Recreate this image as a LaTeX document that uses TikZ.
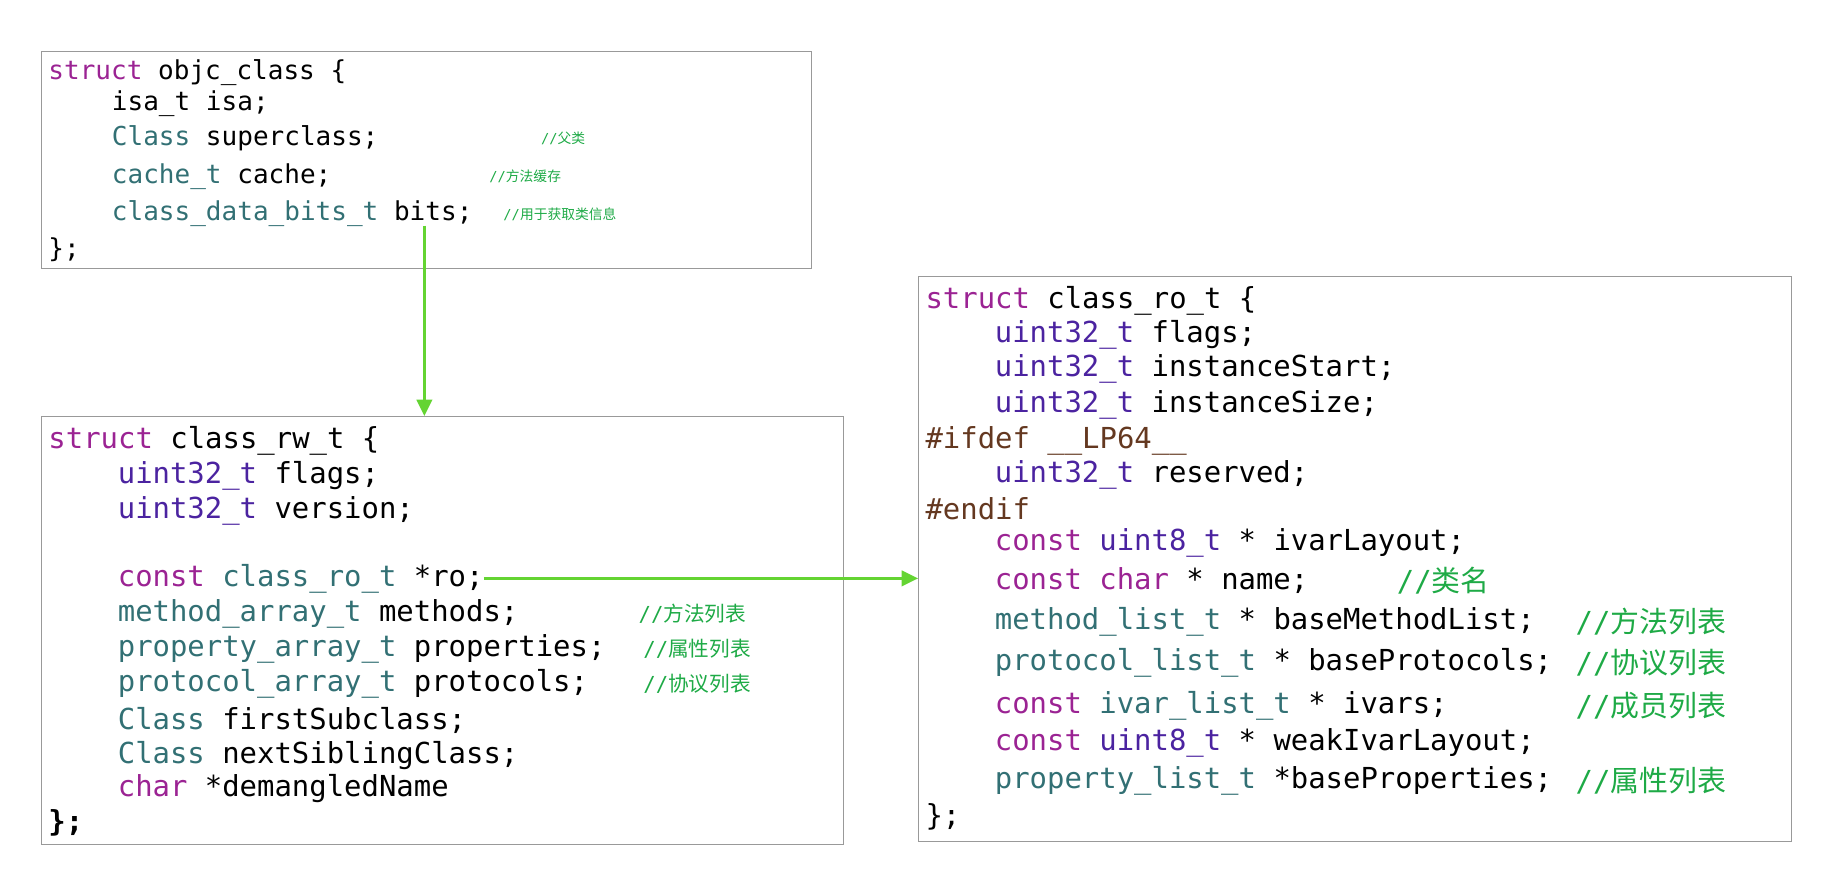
\documentclass[tikz,border=0pt]{standalone}
\usepackage{fontspec}
\usepackage{xcolor}
\usetikzlibrary{arrows.meta}
\newfontfamily\codefont{DejaVu Sans Mono}
\newfontfamily\cjk{Noto Sans CJK SC}
\definecolor{kw}{RGB}{155,35,147}
\definecolor{tp}{RGB}{50,112,116}
\definecolor{ui}{RGB}{75,35,160}
\definecolor{pp}{RGB}{100,56,32}
\definecolor{cm}{RGB}{30,170,70}
\definecolor{lnk}{RGB}{100,212,50}
\newcommand{\K}[1]{\textcolor{kw}{#1}}
\newcommand{\T}[1]{\textcolor{tp}{#1}}
\newcommand{\U}[1]{\textcolor{ui}{#1}}
\newcommand{\C}[1]{\textcolor{cm}{{\cjk #1}}}
\tikzset{
  box/.style={draw=gray!80, line width=0.6pt, anchor=north west, inner sep=0},
  small/.style={anchor=west, inner sep=0, font=\codefont\fontsize{18.9}{20}\selectfont},
  code/.style={anchor=west, inner sep=0, font=\codefont\fontsize{21}{22}\selectfont},
  note/.style={anchor=west, inner sep=0, text=cm, font=\cjk\fontsize{#1}{#1}\selectfont},
  link/.style={draw=lnk, line width=2.5pt, -{Triangle[length=12pt,width=11pt]}}
}
\begin{document}
\begin{tikzpicture}[x=0.03cm,y=-0.03cm]
\useasboundingbox (0,0) rectangle (1560,759);

% objc_class
\node[box, minimum width=655*0.03cm, minimum height=185*0.03cm] (objc) at (35,43) {};
\node[small] (o1) at (41,62) {\K{struct} objc\_class \{};
\node[small] (o2) at (95,88) {isa\_t isa;};
\node[small] (o3) at (95,118) {\T{Class} superclass;};
\node[small] (o4) at (95,150) {\T{cache\_t} cache;};
\node[small] (o5) at (95,182) {\T{class\_data\_bits\_t} bits;};
\node[small] (o6) at (41,212) {\};};
\node[note=19, font=\codefont] (c1) at (460,118) {//\C{父类}};
\node[note=19, font=\codefont] (c2) at (416,150) {//\C{方法缓存}};
\node[note=19, font=\codefont] (c3) at (428,182) {//\C{用于获取类信息}};
\coordinate (bits) at (361,192);

% class_rw_t
\node[box, minimum width=682*0.03cm, minimum height=364*0.03cm] (rw) at (35,354) {};
\node[code] (w1) at (41,375) {\K{struct} class\_rw\_t \{};
\node[code] (w2) at (100,405) {\U{uint32\_t} flags;};
\node[code] (w3) at (100,435) {\U{uint32\_t} version;};
\node[code] (roLine) at (100,492) {\K{const} \T{class\_ro\_t} *ro;};
\node[code] (w5) at (100,522) {\T{method\_array\_t} methods;};
\node[code] (w6) at (100,552) {\T{property\_array\_t} properties;};
\node[code] (w7) at (100,582) {\T{protocol\_array\_t} protocols;};
\node[code] (w8) at (100,613) {\T{Class} firstSubclass;};
\node[code] (w9) at (100,643) {\T{Class} nextSiblingClass;};
\node[code] (w10) at (100,671) {\K{char} *demangledName};
\node[code] (w11) at (41,700) {\textbf{\};}};
\node[note=15, font=\codefont\fontsize{15}{15}\selectfont] (c4) at (543,522) {//\C{方法列表}};
\node[note=15, font=\codefont\fontsize{15}{15}\selectfont] (c5) at (547,552) {//\C{属性列表}};
\node[note=15, font=\codefont\fontsize{15}{15}\selectfont] (c6) at (547,582) {//\C{协议列表}};

% class_ro_t
\node[box, minimum width=742*0.03cm, minimum height=480*0.03cm] (rot) at (781,235) {};
\node[code] (r1) at (787,256) {\K{struct} class\_ro\_t \{};
\node[code] (r2) at (846,285) {\U{uint32\_t} flags;};
\node[code] (r3) at (846,314) {\U{uint32\_t} instanceStart;};
\node[code] (r4) at (846,344) {\U{uint32\_t} instanceSize;};
\node[code] (r5) at (787,375) {\textcolor{pp}{\#ifdef \_\_LP64\_\_}};
\node[code] (r6) at (846,404) {\U{uint32\_t} reserved;};
\node[code] (r7) at (787,433) {\textcolor{pp}{\#endif}};
\node[code] (r8) at (846,462) {\K{const} \U{uint8\_t} * ivarLayout;};
\node[code] (r9) at (846,494) {\K{const} \K{char} * name;};
\node[code] (r10) at (846,529) {\T{method\_list\_t} * baseMethodList;};
\node[code] (r11) at (846,564) {\T{protocol\_list\_t} * baseProtocols;};
\node[code] (r12) at (846,600) {\K{const} \T{ivar\_list\_t} * ivars;};
\node[code] (r13) at (846,632) {\K{const} \U{uint8\_t} * weakIvarLayout;};
\node[code] (r14) at (846,664) {\T{property\_list\_t} *baseProperties;};
\node[code] (r15) at (787,695) {\};};
\node[note=22, font=\codefont\fontsize{21}{22}\selectfont] (c7) at (1188,494) {//\C{类名}};
\node[note=22, font=\codefont\fontsize{21}{22}\selectfont] (c8) at (1340,529) {//\C{方法列表}};
\node[note=22, font=\codefont\fontsize{21}{22}\selectfont] (c9) at (1340,564) {//\C{协议列表}};
\node[note=22, font=\codefont\fontsize{21}{22}\selectfont] (c10) at (1340,600) {//\C{成员列表}};
\node[note=22, font=\codefont\fontsize{21}{22}\selectfont] (c11) at (1340,664) {//\C{属性列表}};

% links
\draw[link] (bits) -- (bits |- rw.north);
\draw[link] (roLine.east) -- (roLine.east -| rot.west);
\end{tikzpicture}
\end{document}
